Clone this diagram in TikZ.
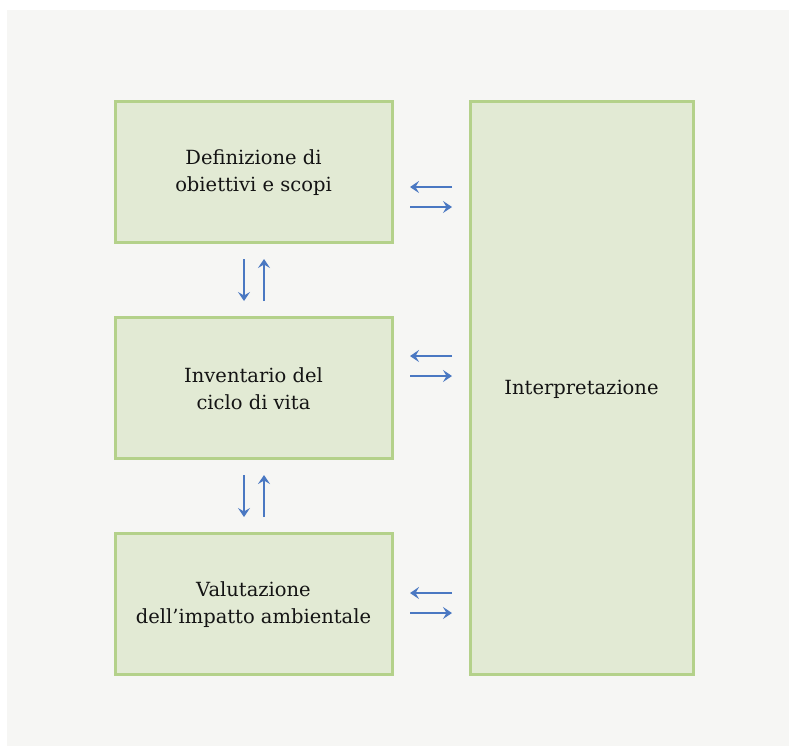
\documentclass[tikz,border=0pt]{standalone}
\usepackage{fontspec}
\setmainfont{DejaVu Serif}
\usetikzlibrary{arrows.meta}
\definecolor{pagebg}{HTML}{F6F6F4}
\definecolor{boxfill}{HTML}{E2EAD4}
\definecolor{boxline}{HTML}{B4D18A}
\definecolor{arrowblue}{HTML}{4A78C2}
\tikzset{
  stagebox/.style={draw=boxline, fill=boxfill, line width=3pt, inner sep=0pt},
  stagelabel/.style={align=center, inner sep=0pt,
    font=\fontsize{19.5}{27}\selectfont, text=black!92},
  flow/.style={draw=arrowblue, line width=1.6pt,
    -{Stealth[length=9pt,width=12pt,inset=3.5pt]}}
}
\begin{document}
\begin{tikzpicture}[x=1pt,y=-1pt]
  \useasboundingbox (0,0) rectangle (791,747);
  \fill[pagebg] (7,10) rectangle (789,746);

  % three stages on the left
  \node[stagebox, minimum width=277pt, minimum height=141pt] (def) at (253.5,171.5) {};
  \node[stagebox, minimum width=277pt, minimum height=141pt] (inv) at (253.5,387.5) {};
  \node[stagebox, minimum width=277pt, minimum height=141pt] (val) at (253.5,603.5) {};

  % interpretation column on the right
  \node[stagebox, minimum width=223pt, minimum height=573pt] (int) at (581.5,387.5) {};

  % labels, set slightly below the geometric centres
  \node[stagelabel] (tdef) at ([yshift=-1.5pt]def.center) {Definizione di\\obiettivi e scopi};
  \node[stagelabel] (tinv) at ([yshift=-1.5pt]inv.center) {Inventario del\\ciclo di vita};
  \node[stagelabel] (tval) at ([yshift=-1.5pt]val.center) {Valutazione\\dell’impatto ambientale};
  \node[stagelabel] (tint) at ([yshift=-1.5pt]int.center) {Interpretazione};

  % vertical exchanges between stages
  \coordinate (v1a) at (244,259); \coordinate (v1b) at (244,301);
  \coordinate (v1c) at (264,301); \coordinate (v1d) at (264,259);
  \draw[flow] (v1a) -- (v1b);
  \draw[flow] (v1c) -- (v1d);
  \coordinate (v2a) at (244,475); \coordinate (v2b) at (244,517);
  \coordinate (v2c) at (264,517); \coordinate (v2d) at (264,475);
  \draw[flow] (v2a) -- (v2b);
  \draw[flow] (v2c) -- (v2d);

  % horizontal exchanges with interpretation
  \foreach \n/\y in {def/187, inv/356, val/593} {
    \draw[flow] (452,\y) -- (410,\y);
    \draw[flow] (410,\y+20) -- (452,\y+20);
  }
\end{tikzpicture}
\end{document}
